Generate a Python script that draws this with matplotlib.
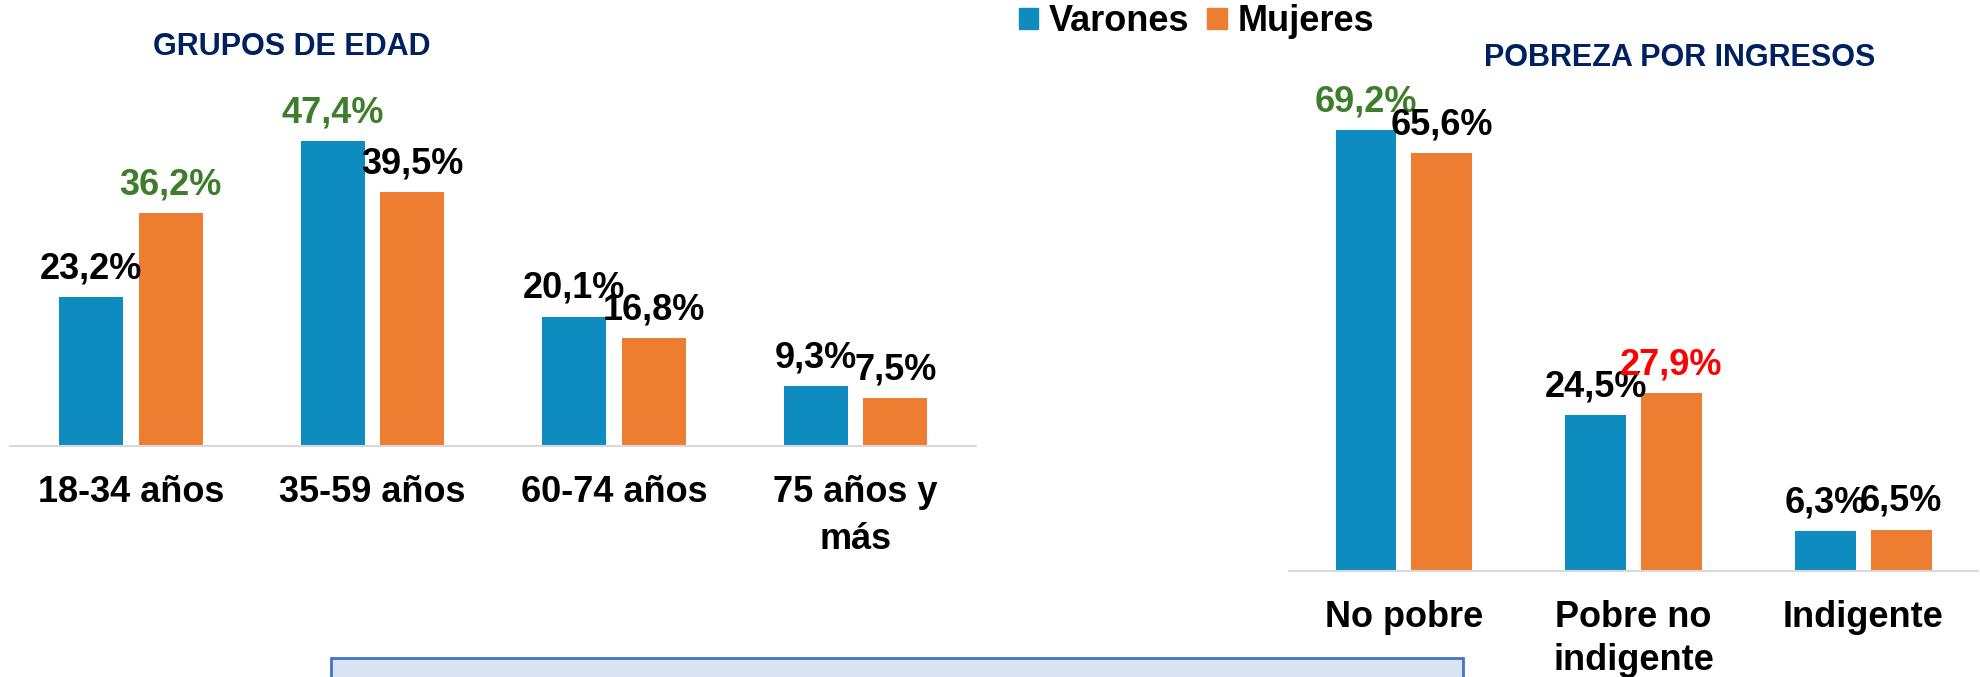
import numpy as np
import matplotlib.pyplot as plt
from matplotlib.patches import Rectangle

plt.rcParams['font.family'] = ['Liberation Sans', 'DejaVu Sans']
plt.rcParams['font.weight'] = 'bold'

# Datos
edad = ['18-34 años', '35-59 años', '60-74 años', '75 años y\nmás']
edad_varones = [23.2, 47.4, 20.1, 9.3]
edad_mujeres = [36.2, 39.5, 16.8, 7.5]

pobreza = ['No pobre', 'Pobre no\nindigente', 'Indigente']
pobreza_varones = [69.2, 24.5, 6.3]
pobreza_mujeres = [65.6, 27.9, 6.5]

# Colores
azul = '#0E8CBF'
naranja = '#ED7D31'
verde = '#3E7E2A'
rojo = '#FF0000'
marino = '#002060'
negro = '#000000'


def dibujar(ax, cats, varones, mujeres, ymax, col_v, col_m, interlineado):
    x = np.arange(len(cats))
    bv = ax.bar(x - 0.165, varones, 0.265, color=azul)
    bm = ax.bar(x + 0.165, mujeres, 0.265, color=naranja)
    for barras, vals, cols in ((bv, varones, col_v), (bm, mujeres, col_m)):
        for b, val, c in zip(barras, vals, cols):
            ax.annotate(f'{val:.1f}%'.replace('.', ','),
                        (b.get_x() + b.get_width() / 2, val),
                        xytext=(0, 13.5), textcoords='offset points',
                        ha='center', va='baseline', fontsize=26,
                        fontweight='bold', color=c, annotation_clip=False)
    ax.set_xlim(-0.5, len(cats) - 0.5)
    ax.set_ylim(0, ymax)
    ax.set_xticks(x, cats)
    ax.tick_params(axis='x', length=0, pad=21, labelsize=26)
    plt.setp(ax.get_xticklabels(), linespacing=interlineado)
    ax.set_yticks([])
    for s in ('top', 'right', 'left'):
        ax.spines[s].set_visible(False)
    ax.spines['bottom'].set_color('#D9D9D9')
    ax.spines['bottom'].set_linewidth(1.5)


fig = plt.figure(figsize=(19.81, 6.77), dpi=100)
ax1 = fig.add_axes([0.00505, 0.3412, 0.4878, 0.5225])
ax2 = fig.add_axes([0.6507, 0.1566, 0.3478, 0.7055])

dibujar(ax1, edad, edad_varones, edad_mujeres, 55,
        [negro, verde, negro, negro], [verde, negro, negro, negro], 1.42)
dibujar(ax2, pobreza, pobreza_varones, pobreza_mujeres, 75,
        [verde, negro, negro], [negro, rojo, negro], 1.3)

# Titulos
fig.text(292 / 1981, 1 - 55 / 677, 'GRUPOS DE EDAD', ha='center', va='baseline',
         fontsize=22, fontweight='bold', color=marino)
fig.text(1680 / 1981, 1 - 66 / 677, 'POBREZA POR INGRESOS', ha='center', va='baseline',
         fontsize=22, fontweight='bold', color=marino)

# Leyenda
handles = [Rectangle((0, 0), 1, 1, color=azul), Rectangle((0, 0), 1, 1, color=naranja)]
fig.legend(handles, ['Varones', 'Mujeres'], loc='center', bbox_to_anchor=(0.604, 0.968),
           ncol=2, frameon=False, fontsize=26, handlelength=0.53, handleheight=0.53,
           handletextpad=0.3, columnspacing=0.5, borderpad=0)

# Recuadro inferior
fig.patches.append(Rectangle((331 / 1981, -0.05), (1463 - 331) / 1981, 0.05 + 1 - 658 / 677,
                             transform=fig.transFigure, facecolor='#DAE3F3',
                             edgecolor='#4472C4', lw=2))

fig.savefig('out.png', dpi=100)
